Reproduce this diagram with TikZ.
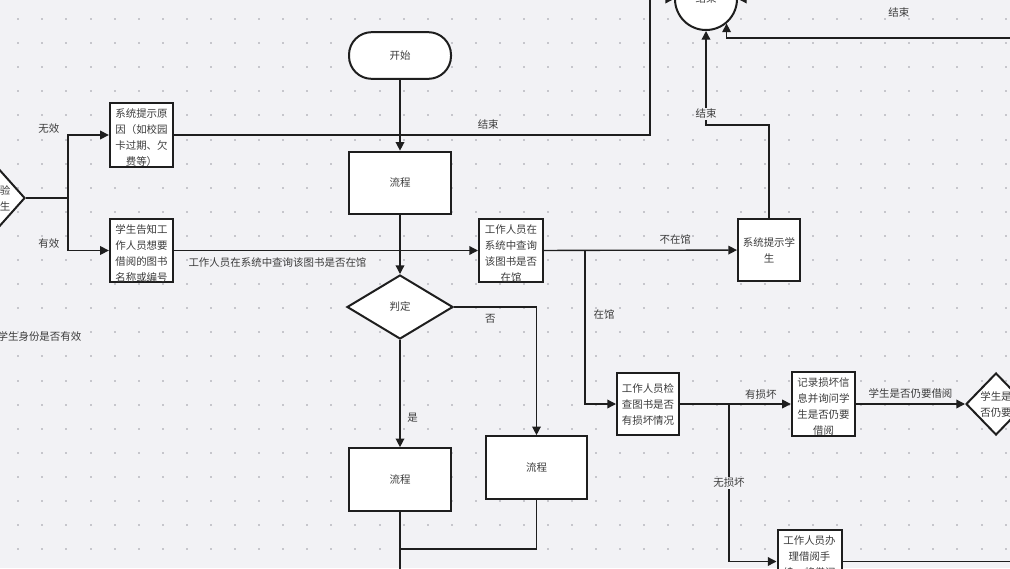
\documentclass[tikz,border=0pt]{standalone}
\usepackage{fontspec}
\newfontfamily\cjk{Noto Sans CJK SC}
\usetikzlibrary{shapes.geometric, positioning, arrows.meta, calc}
\definecolor{bgc}{RGB}{242,242,245}
\definecolor{dotc}{RGB}{198,198,204}
\definecolor{txtc}{RGB}{60,60,60}
\definecolor{linec}{RGB}{30,30,30}

\begin{document}
\begin{tikzpicture}[x=0.75pt, y=-0.75pt, >={Triangle[length=6.5pt,width=6.5pt]},
  every node/.style={font=\cjk\fontsize{7.85pt}{12pt}\selectfont, text=txtc},
  box/.style={draw=linec, line width=1.5pt, fill=white, minimum width=47.5pt, minimum height=47pt, inner sep=0pt, align=center},
  fourbox/.style={box, text height=47pt},
  flowbox/.style={box, minimum width=76.5pt, minimum height=47pt},
  startbox/.style={box, rounded corners=17pt, minimum width=76.5pt, minimum height=35pt},
  decide/.style={draw=linec, line width=1.5pt, fill=white, diamond, inner sep=0pt, align=center},
  endbox/.style={draw=linec, line width=1.5pt, fill=white, circle, minimum size=46.5pt, inner sep=0pt},
  line/.style={draw=linec, line width=1pt},
  lbl/.style={inner sep=1pt}]

  % frame and dotted paper
  \useasboundingbox (0,0) rectangle (1010,568);
  \clip (0,0) rectangle (1010,568);
  \fill[bgc] (0,0) rectangle (1010,568);
  \foreach \i in {0,...,41}
    \foreach \j in {0,...,22}
      \fill[dotc] ({17.3+24.08*\i},{18+24.1*\j}) rectangle ++(2,2);

  % main column
  \node[startbox] (start) at (400,55.5) {开始};
  \node[flowbox] (flow1) at (400,183) {流程};
  \node[decide, minimum width=79.5pt, minimum height=48pt] (judge) at (400,307) {判定};
  \node[flowbox] (flow2) at (400,479.5) {流程};
  \node[flowbox, minimum width=75.5pt] (flow3) at (536.5,467.5) {流程};
  \coordinate (outB) at (400,587);
  \coordinate (mrg) at (400,549);

  % left part
  \node[decide, minimum width=37.5pt, minimum height=42pt] (checkd) at (0,198) {检验\\学生};
  \node[fourbox] (reason) at (141.5,135) {系统提示原\\因（如校园\\卡过期、欠\\费等）};
  \node[fourbox] (tell) at (141.5,250.5) {学生告知工\\作人员想要\\借阅的图书\\名称或编号};
  \node[lbl, anchor=west] (idlbl) at (-4,337) {学生身份是否有效};
  \coordinate (split) at (68,198);

  % right part
  \node[fourbox, minimum width=48pt] (query) at (511,250.5) {工作人员在\\系统中查询\\该图书是否\\在馆};
  \node[box, minimum width=46.5pt, minimum height=46.5pt] (prompt) at (769,250) {系统提示学\\生};
  \node[box, minimum width=46.5pt] (inspect) at (648,404) {工作人员检\\查图书是否\\有损坏情况};
  \node[fourbox] (record) at (823.5,404) {记录损坏信\\息并询问学\\生是否仍要\\借阅};
  \node[decide, minimum width=45pt, minimum height=46.5pt] (dec2) at (996,404) {学生是\\否仍要};
  \node[fourbox, minimum width=48pt] (handle) at (809.5,561.5) {工作人员办\\理借阅手\\续，将借阅\\~};
  \node[endbox] (endc) at (706,-1) {结束};
  \coordinate (br1) at (585,250.5);
  \coordinate (br2) at (729,404);
  \coordinate (turnA) at (650,-1);
  \coordinate (turnB) at (706,125);
  \coordinate (inR1) at (1020,-1);
  \coordinate (inR2) at (1020,38);
  \coordinate (outR) at (1020,561.5);

  % connectors
  \draw[line,->] (start) -- (flow1);
  \draw[line,->] (flow1) -- (judge);
  \draw[line,->] (judge) -- node[lbl, right=4pt, pos=0.73]{是} (flow2);
  \draw[line,->] (judge.east) -| node[lbl, below=4pt, pos=0.22]{否} (flow3.north);
  \draw[line,->] (flow2) -- (outB);
  \draw[line] (flow3) |- (mrg);

  \draw[line] (checkd.east) -- (split);
  \draw[line,->] (split) |- node[lbl, above left, xshift=-5pt, pos=0.5]{无效} (reason.west);
  \draw[line,->] (split) |- node[lbl, above left, xshift=-5pt, pos=0.5]{有效} (tell.west);
  \draw[line,->] (reason.east) -| node[lbl, above=3pt, pos=0.33]{结束} (turnA) -- (endc.west);
  \draw[line,->] (tell) -- node[lbl, below=4pt, pos=0.34]{工作人员在系统中查询该图书是否在馆} (query);

  \draw[line,->] (query) -- node[lbl, above=3pt, pos=0.68]{不在馆} (prompt);
  \draw[line,->] (br1) |- node[lbl, right=5pt, pos=0.21]{在馆} (inspect.west);
  \draw[line,->] (prompt.north) |- (turnB) -- node[lbl, fill=bgc, pos=0.12]{结束} (endc.south);
  \draw[line,->] (inR1) -- node[lbl, below=5pt, pos=0.43]{结束} (endc.east);
  \draw[line,->] (inR2) -| (endc.-50);

  \draw[line,->] (inspect) -- node[lbl, above=2pt, pos=0.73]{有损坏} (record);
  \draw[line,->] (br2) |- node[lbl, fill=bgc, pos=0.25]{无损坏} (handle.west);
  \draw[line,->] (record) -- node[lbl, above=3pt]{学生是否仍要借阅} (dec2);
  \draw[line] (handle) -- (outR);
\end{tikzpicture}
\end{document}
